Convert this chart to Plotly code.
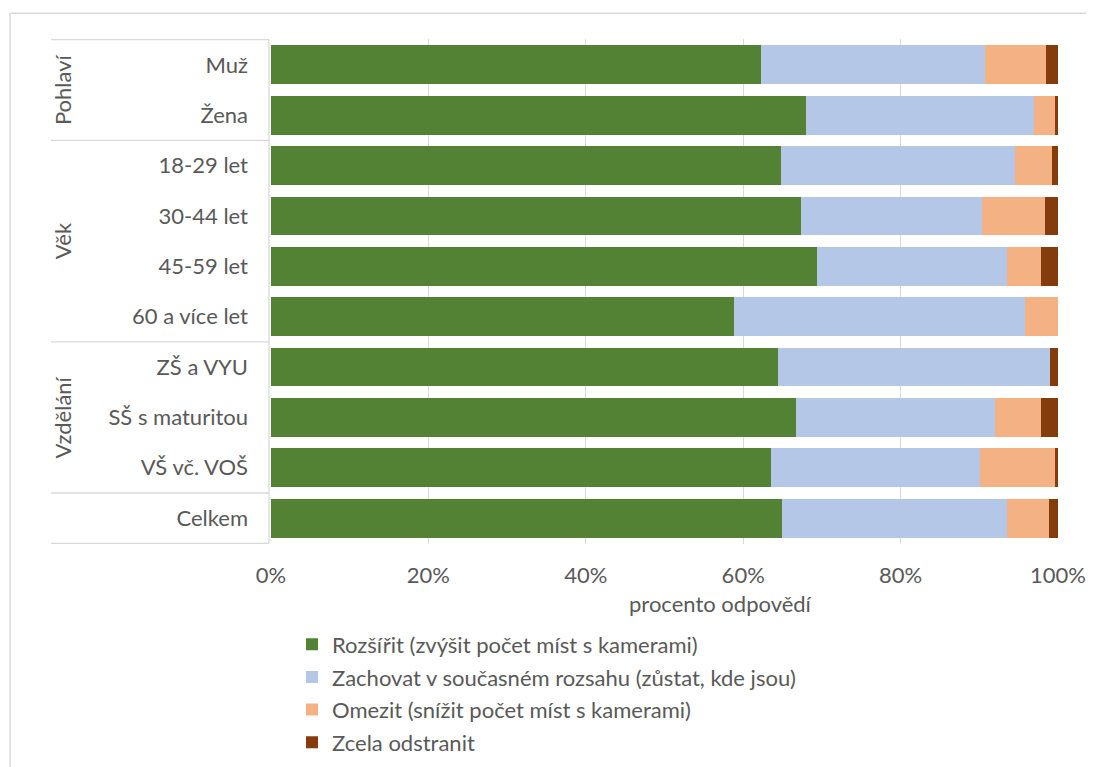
import plotly.graph_objects as go

# rows (top to bottom) and their group labels
categories = ["Muž", "Žena", "18-29 let", "30-44 let", "45-59 let", "60 a více let",
              "ZŠ a VYU", "SŠ s maturitou", "VŠ vč. VOŠ", "Celkem"]
groups = ["Pohlaví", "Věk", "Vzdělání"]
group_rows = [(0, 1), (2, 5), (6, 8)]

series_names = [
    "Rozšířit (zvýšit počet míst s kamerami)",
    "Zachovat v současném rozsahu (zůstat, kde jsou)",
    "Omezit (snížit počet míst s kamerami)",
    "Zcela odstranit",
]
rozsirit = [62.3, 68.0, 64.8, 67.3, 69.4, 58.8, 64.4, 66.7, 63.5, 64.9]
zachovat = [28.4, 29.0, 29.7, 23.0, 24.1, 37.0, 34.6, 25.3, 26.6, 28.6]
omezit = [7.8, 2.6, 4.7, 8.0, 4.4, 4.2, 0.0, 5.9, 9.5, 5.4]
odstranit = [1.5, 0.4, 0.8, 1.7, 2.1, 0.0, 1.0, 2.1, 0.4, 1.1]

x_ticks = [0, 20, 40, 60, 80, 100]
x_ticktext = ["0%", "20%", "40%", "60%", "80%", "100%"]

COLORS = ["#548235", "#B4C7E7", "#F4B183", "#843C0C"]
TEXT = "#595959"
GRID = "#D9D9D9"
FONT = "Lato"
FS = 22

W, H = 1094, 767
OFF = 8  # page body margin
L, T = 271 - OFF, 39 - OFF
R, B = W - (1058 - OFF), H - (547 - OFF)
pw, ph = W - L - R, H - T - B


def px_x(px):
    # screen pixel -> paper x
    return (px - OFF - L) / pw


def px_y(py):
    # screen pixel -> paper y
    return (H - B - (py - OFF)) / ph


fig = go.Figure()
for i, (name, vals) in enumerate(zip(series_names, [rozsirit, zachovat, omezit, odstranit])):
    fig.add_trace(go.Bar(
        y=categories, x=vals, name=name, orientation="h",
        marker=dict(color=COLORS[i], line=dict(width=0)),
        legendgroup=str(i),
    ))

shapes = []
# separators of the label area
for yv in [-0.5, 1.5, 5.5, 8.5, 9.5]:
    shapes.append(dict(type="line", xref="paper", yref="y", x0=px_x(51), x1=px_x(269),
                       y0=yv, y1=yv, line=dict(color=GRID, width=1.3)))
shapes.append(dict(type="line", xref="paper", yref="y", x0=px_x(269), x1=px_x(269),
                   y0=-0.5, y1=9.5, line=dict(color=GRID, width=1.3)))
# outer frame (partly cropped)
shapes.append(dict(type="line", xref="paper", yref="paper", x0=px_x(10), x1=px_x(W + 20),
                   y0=px_y(13), y1=px_y(13), line=dict(color=GRID, width=1.5)))
shapes.append(dict(type="line", xref="paper", yref="paper", x0=px_x(10), x1=px_x(10),
                   y0=px_y(13), y1=px_y(H + 20), line=dict(color=GRID, width=1.5)))

annotations = []
for g, (a, b) in zip(groups, group_rows):
    annotations.append(dict(text=g, xref="paper", yref="y", x=px_x(62), y=(a + b) / 2,
                            textangle=-90, showarrow=False, xanchor="center", yanchor="middle",
                            font=dict(family=FONT, size=FS, color=TEXT)))
annotations.append(dict(text="procento odpovědí", xref="paper", yref="paper",
                        x=px_x(720), y=px_y(607), showarrow=False,
                        xanchor="center", yanchor="middle",
                        font=dict(family=FONT, size=FS, color=TEXT)))

fig.update_layout(
    width=W, height=H,
    margin=dict(l=L, r=R, t=T, b=B, pad=0),
    paper_bgcolor="white", plot_bgcolor="white",
    barmode="stack", bargap=0.23,
    font=dict(family=FONT, size=FS, color=TEXT),
    xaxis=dict(range=[0, 100], tickvals=x_ticks, ticktext=x_ticktext,
               showgrid=True, gridcolor=GRID, gridwidth=1.3, zeroline=False,
               showline=False, ticks="", ticklabelstandoff=16,
               tickfont=dict(family=FONT, size=FS, color=TEXT), fixedrange=True),
    yaxis=dict(autorange="reversed", showgrid=False, zeroline=False, showline=False,
               ticks="", ticklabelstandoff=22,
               tickfont=dict(family=FONT, size=FS, color=TEXT)),
    legend=dict(x=px_x(292), y=px_y(627), xanchor="left", yanchor="top",
                traceorder="grouped", tracegroupgap=1, itemclick=False,
                font=dict(family=FONT, size=FS, color=TEXT)),
    shapes=shapes,
    annotations=annotations,
)

fig.write_html("out.html")
